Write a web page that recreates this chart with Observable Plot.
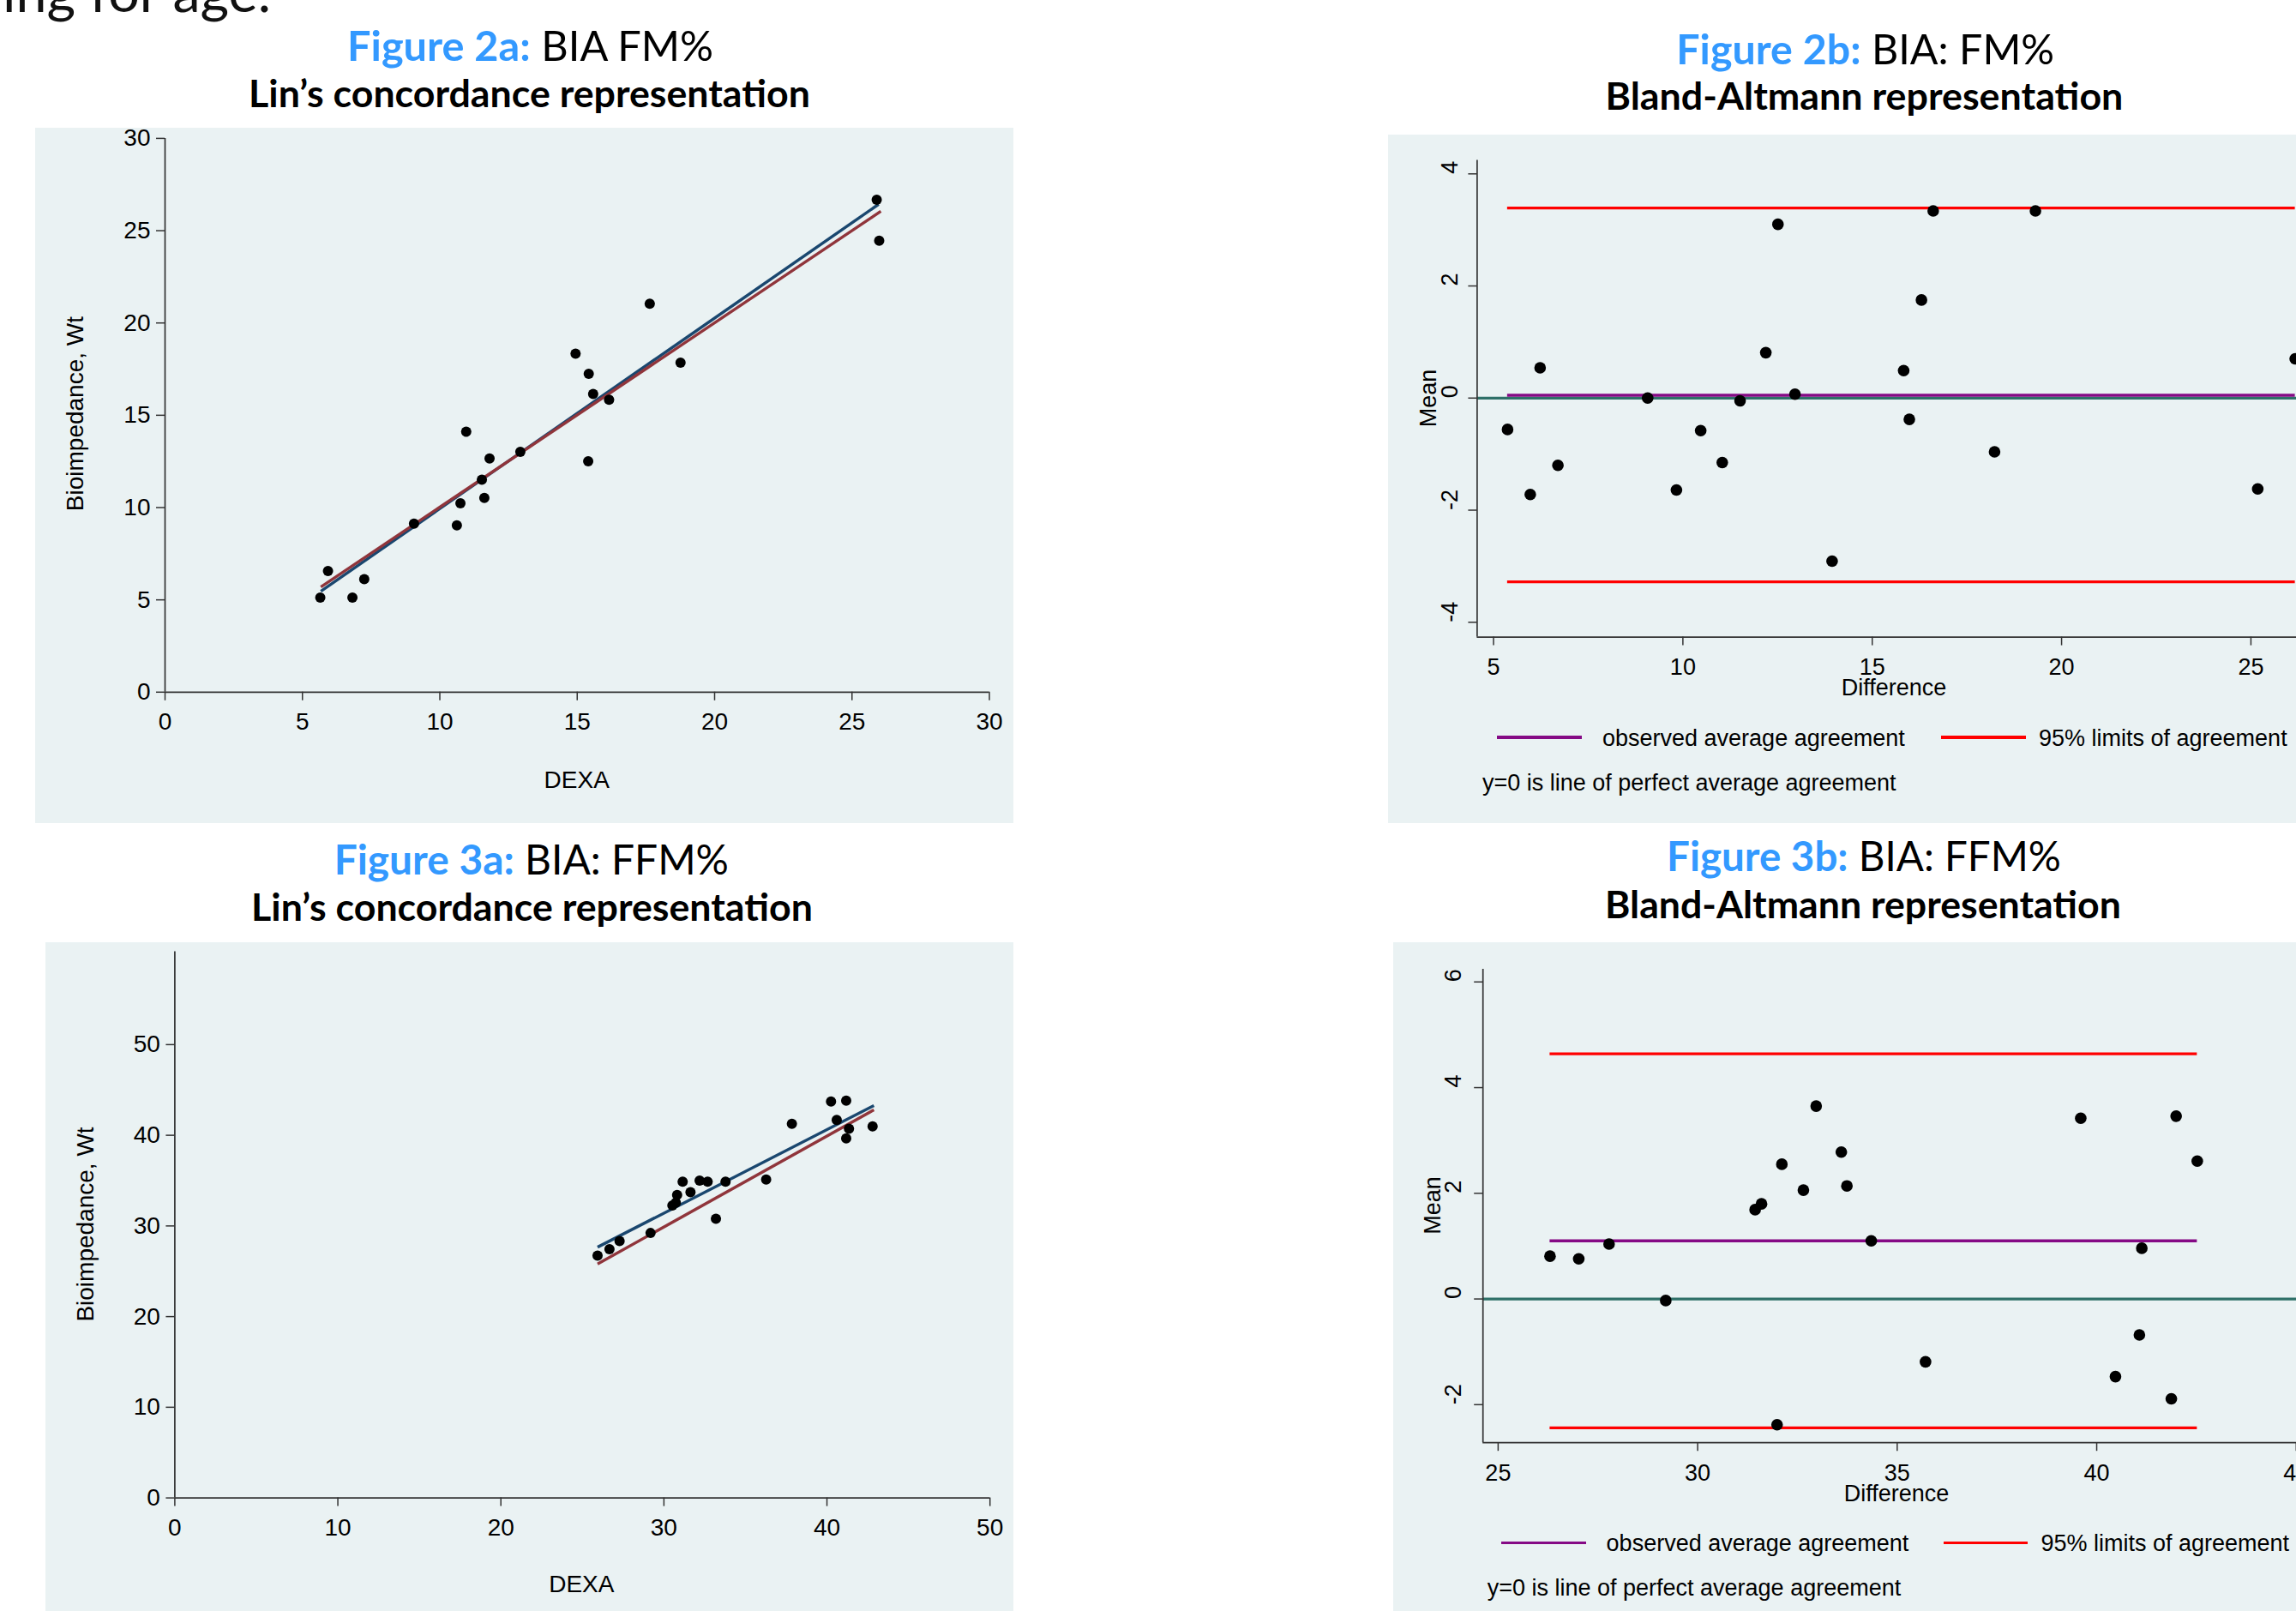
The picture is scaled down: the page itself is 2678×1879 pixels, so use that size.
<!DOCTYPE html>
<html>
<head>
<meta charset="utf-8">
<script src="https://cdn.jsdelivr.net/npm/d3@7"></script>
<script src="https://cdn.jsdelivr.net/npm/@observablehq/plot@0.6"></script>
<style>
  html, body { margin: 0; padding: 0; width: 2678px; height: 1879px; overflow: hidden; background: #ffffff; }
  .panel { position: absolute; background: #eaf2f3; overflow: visible; }
  .panel svg { position: absolute; left: 0; top: 0; overflow: visible; }
  .swatch { position: absolute; height: 3.4px; }
  #overlay { position: absolute; left: 0; top: 0; pointer-events: none; white-space: pre; }
</style>
</head>
<body>
<script>
// ---------------- DATA ----------------
// Figure 2a: Lin's concordance, FM%
const fmDexa = [5.65, 5.93, 6.82, 7.25, 9.06, 10.62, 10.75, 10.96, 11.53, 11.62, 11.81, 12.93, 14.94, 15.42, 15.40, 15.58, 16.16, 17.64, 18.76, 25.90, 25.99];
const fmBia  = [5.12, 6.56, 5.12, 6.12, 9.13, 9.04, 10.23, 14.11, 11.51, 10.52, 12.66, 13.02, 18.34, 17.25, 12.51, 16.15, 15.84, 21.04, 17.85, 26.67, 24.46];
const fmRmaX = [5.67, 25.97];   // reduced major axis (blue)
const fmRmaY = [5.47, 26.43];
const fmPerfX = [5.67, 26.05];  // line of perfect concordance (red)
const fmPerfY = [5.70, 26.05];

// Figure 2b: Bland-Altmann, FM%
const fmBaX = [5.37, 5.97, 6.23, 6.70, 9.07, 9.83, 10.47, 11.04, 11.51, 12.19, 12.51, 12.96, 13.94, 15.83, 15.98, 16.30, 16.61, 18.23, 19.31, 25.18, 26.17];
const fmBaY = [-0.56, -1.72, 0.54, -1.20, 0.00, -1.64, -0.58, -1.15, -0.05, 0.81, 3.10, 0.07, -2.91, 0.49, -0.38, 1.75, 3.34, -0.96, 3.34, -1.62, 0.70];
const fmAvgAgreement = [0.05];
const fmLimits = [-3.28, 3.39];

// Figure 3a: Lin's concordance, FFM%
const ffmDexa = [25.93, 26.66, 27.28, 29.18, 30.52, 30.73, 30.81, 31.15, 31.63, 32.19, 32.68, 33.19, 33.78, 36.27, 37.85, 40.25, 40.60, 41.18, 41.18, 41.35, 42.80];
const ffmBia  = [26.72, 27.44, 28.33, 29.22, 32.25, 32.57, 33.42, 34.89, 33.73, 34.99, 34.89, 30.80, 34.89, 35.12, 41.27, 43.73, 41.68, 43.82, 39.66, 40.73, 40.99];
const ffmRmaX = [25.93, 42.88];
const ffmRmaY = [27.66, 43.28];
const ffmPerfX = [25.93, 42.88];
const ffmPerfY = [25.80, 42.80];

// Figure 3b: Bland-Altmann, FFM%
const ffmBaX = [26.30, 27.02, 27.78, 29.20, 31.44, 31.60, 32.11, 31.99, 32.65, 32.97, 33.60, 33.74, 34.35, 35.71, 39.60, 40.47, 41.07, 41.13, 41.87, 41.99, 42.52];
const ffmBaY = [0.81, 0.76, 1.04, -0.03, 1.69, 1.80, 2.55, -2.38, 2.06, 3.65, 2.78, 2.14, 1.10, -1.19, 3.42, -1.47, -0.68, 0.96, -1.89, 3.46, 2.61];
const ffmAvgAgreement = [1.10];
const ffmLimits = [-2.44, 4.64];

// Tick labels
const ticks2aX = [0, 5, 10, 15, 20, 25, 30];
const ticks2aY = [0, 5, 10, 15, 20, 25, 30];
const ticks2bX = [5, 10, 15, 20, 25, 30];
const ticks2bY = [-4, -2, 0, 2, 4];
const ticks3aX = [0, 10, 20, 30, 40, 50];
const ticks3aY = [0, 10, 20, 30, 40, 50];
const ticks3bX = [25, 30, 35, 40, 45];
const ticks3bY = [-2, 0, 2, 4, 6];

// ---------------- STYLE ----------------
const AXF = "'Liberation Sans', Arial, Helvetica, sans-serif";
const TF = "Lato, 'Open Sans', 'Noto Sans', sans-serif";
const AXIS = "#333333";
const NAVY = "#1a476f";
const MAROON = "#90353b";
const PURPLE = "#850a85";
const TEAL = "#2f7068";
const RED = "#ff0000";
const BLUE_TITLE = "#3399ff";

function addPanel(cfg) {
  const [bl, bt, br, bb] = cfg.bg;
  const width = br - bl, height = bb - bt;
  const div = document.createElement("div");
  div.className = "panel";
  div.style.left = bl + "px"; div.style.top = bt + "px";
  div.style.width = width + "px"; div.style.height = height + "px";
  const svg = Plot.plot({
    width, height,
    marginLeft: cfg.frame.left - bl,
    marginRight: br - cfg.frame.right,
    marginTop: cfg.frame.top - bt,
    marginBottom: bb - cfg.frame.bottom,
    x: {domain: cfg.xDomain},
    y: {domain: cfg.yDomain},
    style: {background: "transparent", fontFamily: AXF, color: "black", overflow: "visible"},
    marks: cfg.marks
  });
  div.appendChild(svg);
  document.body.appendChild(div);
}

function axisLines(xDomain, yDomain) {
  return [
    Plot.ruleX([xDomain[0]], {stroke: AXIS, strokeWidth: 1.7}),
    Plot.ruleY([yDomain[0]], {stroke: AXIS, strokeWidth: 1.7})
  ];
}

function linMarks(xs, ys, rmaX, rmaY, perfX, perfY, xt, yt, xDomain, yDomain) {
  return [
    ...axisLines(xDomain, yDomain),
    Plot.axisX({ticks: xt, tickSize: 10, tickPadding: 14, fontSize: 28, label: null, tickFormat: d => String(d), stroke: AXIS, strokeWidth: 1.5}),
    Plot.axisY({ticks: yt, tickSize: 10, tickPadding: 7, fontSize: 28, label: null, tickFormat: d => String(d), stroke: AXIS, strokeWidth: 1.5}),
    Plot.line(d3.range(rmaX.length), {x: rmaX, y: rmaY, stroke: NAVY, strokeWidth: 3.4, strokeLinecap: "butt"}),
    Plot.line(d3.range(perfX.length), {x: perfX, y: perfY, stroke: MAROON, strokeWidth: 3.4, strokeLinecap: "butt"}),
    Plot.dot(d3.range(xs.length), {x: xs, y: ys, r: 6, fill: "black", stroke: "none"})
  ];
}

function baMarks(xs, ys, avg, limits, xt, yt, xDomain, yDomain, labelDx) {
  const ext = d3.extent(xs);
  return [
    Plot.ruleY([0], {stroke: TEAL, strokeWidth: 3.3}),
    Plot.ruleY(avg, {x1: () => ext[0], x2: () => ext[1], stroke: PURPLE, strokeWidth: 3.5}),
    Plot.ruleY(limits, {x1: () => ext[0], x2: () => ext[1], stroke: RED, strokeWidth: 3.3}),
    ...axisLines(xDomain, yDomain),
    Plot.axisX({ticks: xt, tickSize: 10, tickPadding: 15, fontSize: 27, label: null, tickFormat: d => String(d), stroke: AXIS, strokeWidth: 1.5}),
    Plot.axisY({ticks: yt, tickSize: 10, tickPadding: 0, fontSize: 27, label: null, tickFormat: () => "", stroke: AXIS, strokeWidth: 1.5}),
    Plot.text(yt, {y: d => d, text: d => String(d), frameAnchor: "left", rotate: -90, dx: labelDx, fontSize: 27, fill: "black"}),
    Plot.dot(d3.range(xs.length), {x: xs, y: ys, r: 6.8, fill: "black", stroke: "none"})
  ];
}

// Figure 2a
addPanel({
  bg: [41, 149, 1182, 960],
  frame: {left: 192, right: 1153.5, top: 160.9, bottom: 806.8},
  xDomain: [0, 30], yDomain: [0, 30],
  marks: linMarks(fmDexa, fmBia, fmRmaX, fmRmaY, fmPerfX, fmPerfY, ticks2aX, ticks2aY, [0, 30], [0, 30])
});
// Figure 2b
addPanel({
  bg: [1619, 157, 2720, 960],
  frame: {left: 1722.4, right: 2695.6, top: 186.6, bottom: 742.6},
  xDomain: [4.567, 26.6], yDomain: [-4.265, 4.24],
  marks: baMarks(fmBaX, fmBaY, fmAvgAgreement, fmLimits, ticks2bX, ticks2bY, [4.567, 26.6], [-4.265, 4.24], -32)
});
// Figure 3a
addPanel({
  bg: [52.5, 1099, 1182, 1879],
  frame: {left: 202.9, right: 1153.7, top: 1109.5, bottom: 1746.6},
  xDomain: [0, 50], yDomain: [0, 60.25],
  marks: linMarks(ffmDexa, ffmBia, ffmRmaX, ffmRmaY, ffmPerfX, ffmPerfY, ticks3aX, ticks3aY, [0, 50], [0, 60.25])
});
// Figure 3b
addPanel({
  bg: [1625, 1099, 2720, 1879],
  frame: {left: 1729.2, right: 2695, top: 1130, bottom: 1682.2},
  xDomain: [24.62, 45.37], yDomain: [-2.72, 6.24],
  marks: baMarks(ffmBaX, ffmBaY, ffmAvgAgreement, ffmLimits, ticks3bX, ticks3bY, [24.62, 45.37], [-2.72, 6.24], -34)
});

// ---------------- TEXT OVERLAY ----------------
const overlay = d3.select("body").append("svg")
  .attr("id", "overlay").attr("width", 2678).attr("height", 1879);

function fit(sel, targetW) {
  const w = sel.node().getBBox().width;
  const fs = +sel.attr("font-size");
  if (w > 0) sel.attr("font-size", fs * targetW / w);
}

// clipped slide text at top-left
const slideText = overlay.append("text").attr("x", 3).attr("y", 14)
  .attr("font-family", TF).attr("font-size", 50).attr("fill", "#111").text("ing for age.");
fit(slideText, 313);

const titles = [
  {cx: 618.5, y: 71, w: 427, a: "Figure 2a:", b: " BIA FM%"},
  {cx: 2175.7, y: 75, w: 441, a: "Figure 2b:", b: " BIA: FM%"},
  {cx: 619.8, y: 1020, w: 460.5, a: "Figure 3a:", b: " BIA: FFM%"},
  {cx: 2174, y: 1016, w: 460, a: "Figure 3b:", b: " BIA: FFM%"}
];
titles.forEach(t => {
  const el = overlay.append("text").attr("x", t.cx).attr("y", t.y).attr("text-anchor", "middle")
    .attr("font-family", TF).attr("font-size", 50);
  el.append("tspan").attr("font-weight", "bold").attr("fill", BLUE_TITLE).text(t.a);
  el.append("tspan").attr("fill", "#000").text(t.b);
  fit(el, t.w);
});
const subtitles = [
  {cx: 617.5, y: 125, w: 655, s: "Lin’s concordance representation"},
  {cx: 2174.5, y: 128, w: 604, s: "Bland-Altmann representation"},
  {cx: 620.5, y: 1074, w: 655, s: "Lin’s concordance representation"},
  {cx: 2173, y: 1071, w: 602, s: "Bland-Altmann representation"}
];
subtitles.forEach(t => {
  const el = overlay.append("text").attr("x", t.cx).attr("y", t.y).attr("text-anchor", "middle")
    .attr("font-family", TF).attr("font-weight", "bold").attr("font-size", 45).attr("fill", "#000").text(t.s);
  fit(el, t.w);
});

// axis titles
function label(x, y, s, size, rot) {
  const el = overlay.append("text").attr("font-family", AXF).attr("font-size", size)
    .attr("fill", "#000").attr("text-anchor", "middle").text(s);
  if (rot) el.attr("transform", `translate(${x},${y}) rotate(-90)`);
  else el.attr("x", x).attr("y", y);
  return el;
}
label(672.7, 919, "DEXA", 28, false);
label(96.5, 482.6, "Bioimpedance, Wt", 28, true);
label(678.3, 1857, "DEXA", 28, false);
label(108.7, 1428, "Bioimpedance, Wt", 28, true);
label(2209, 811, "Difference", 27, false);
label(1674.5, 464.6, "Mean", 27, true);
label(2212, 1750.7, "Difference", 27, false);
label(1680, 1406, "Mean", 27, true);

// legends
function legend(y, purpleX, redX, txt1X, txt2X, noteX, noteY) {
  [[purpleX, PURPLE], [redX, RED]].forEach(([xr, c]) => {
    const d = document.createElement("div");
    d.className = "swatch";
    d.style.left = xr[0] + "px"; d.style.top = (y - 1.7) + "px";
    d.style.width = (xr[1] - xr[0]) + "px"; d.style.background = c;
    document.body.insertBefore(d, document.getElementById("overlay"));
  });
  overlay.append("text").attr("x", txt1X).attr("y", y + 9.7).attr("font-family", AXF).attr("font-size", 27).text("observed average agreement");
  overlay.append("text").attr("x", txt2X).attr("y", y + 9.7).attr("font-family", AXF).attr("font-size", 27).text("95% limits of agreement");
  overlay.append("text").attr("x", noteX).attr("y", noteY).attr("font-family", AXF).attr("font-size", 27).text("y=0 is line of perfect average agreement");
}
legend(860, [1746, 1845], [2264, 2363], 1869, 2378, 1729, 922);
legend(1799.4, [1751, 1850], [2267, 2365], 1873.6, 2380.4, 1734.7, 1861);
</script>
</body>
</html>
